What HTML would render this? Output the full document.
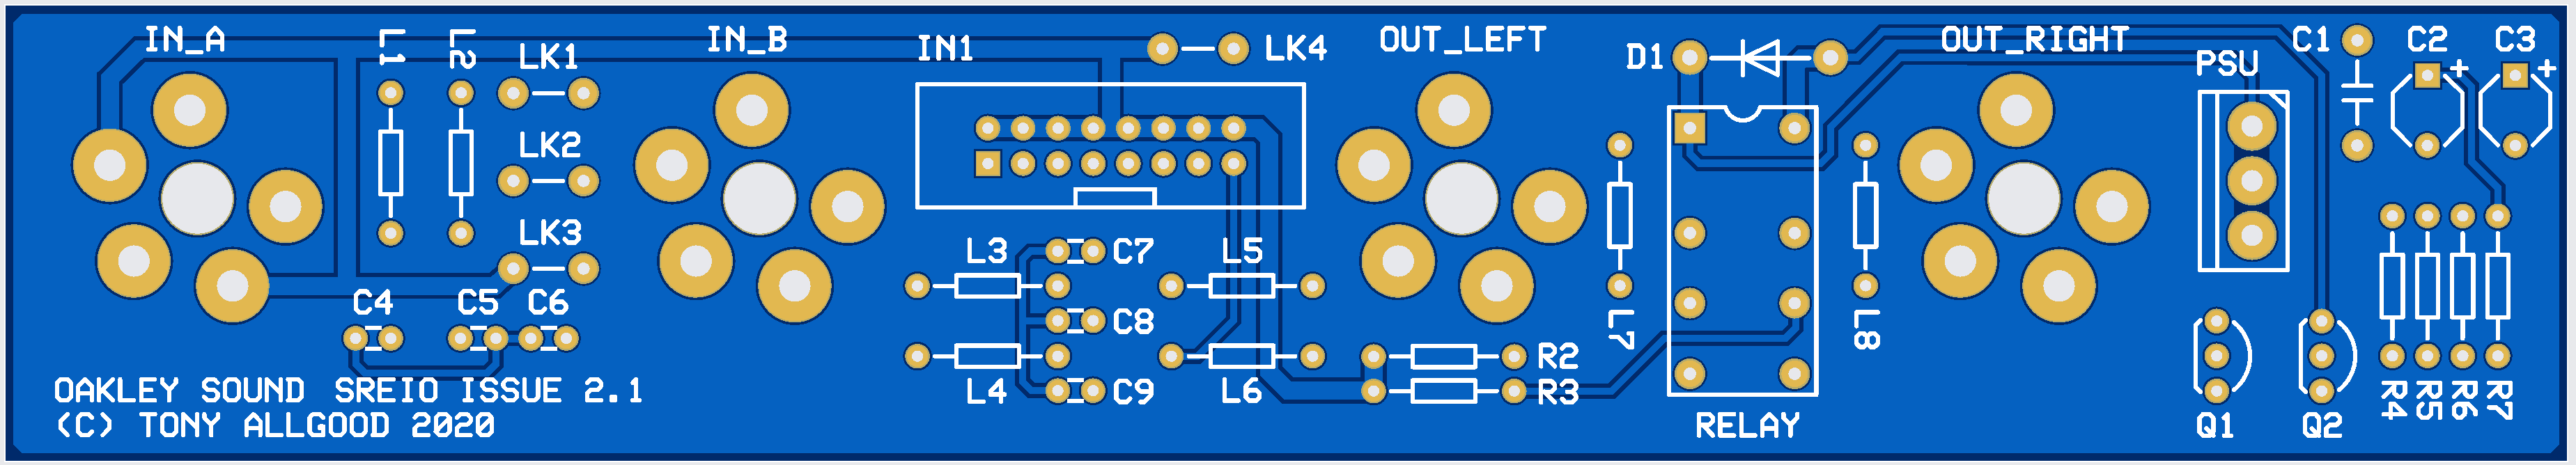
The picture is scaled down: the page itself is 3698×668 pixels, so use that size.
<!DOCTYPE html><html><head><meta charset="utf-8"><style>html,body{margin:0;padding:0;background:#e8e9ec;overflow:hidden}svg{display:block}</style></head><body>
<svg shape-rendering="crispEdges" width="3698" height="668" viewBox="0 0 3698 668">
<rect x="0" y="0" width="3698" height="668" fill="#e8e9ec"/>
<rect x="6" y="6" width="3681" height="657.5" fill="#ffffff"/>
<rect x="8" y="8" width="3677" height="653.5" fill="#002a6b"/>
<polygon points="31.5,19.5 3661.5,19.5 3674.0,32.0 3674.0,638.5 3661.5,651.0 31.5,651.0 19.0,638.5 19.0,32.0" fill="#0561c1"/>
<circle cx="272.50" cy="158.30" r="56.30" fill="#012a6b"/>
<circle cx="157.70" cy="237.30" r="56.30" fill="#012a6b"/>
<circle cx="410.00" cy="296.70" r="56.30" fill="#012a6b"/>
<circle cx="192.30" cy="375.00" r="56.30" fill="#012a6b"/>
<circle cx="334.00" cy="410.70" r="56.30" fill="#012a6b"/>
<circle cx="1079.50" cy="158.30" r="56.30" fill="#012a6b"/>
<circle cx="964.70" cy="237.30" r="56.30" fill="#012a6b"/>
<circle cx="1217.00" cy="296.70" r="56.30" fill="#012a6b"/>
<circle cx="999.30" cy="375.00" r="56.30" fill="#012a6b"/>
<circle cx="1141.00" cy="410.70" r="56.30" fill="#012a6b"/>
<circle cx="2087.50" cy="158.30" r="56.30" fill="#012a6b"/>
<circle cx="1972.70" cy="237.30" r="56.30" fill="#012a6b"/>
<circle cx="2225.00" cy="296.70" r="56.30" fill="#012a6b"/>
<circle cx="2007.30" cy="375.00" r="56.30" fill="#012a6b"/>
<circle cx="2149.00" cy="410.70" r="56.30" fill="#012a6b"/>
<circle cx="2894.50" cy="158.30" r="56.30" fill="#012a6b"/>
<circle cx="2779.70" cy="237.30" r="56.30" fill="#012a6b"/>
<circle cx="3032.00" cy="296.70" r="56.30" fill="#012a6b"/>
<circle cx="2814.30" cy="375.00" r="56.30" fill="#012a6b"/>
<circle cx="2956.00" cy="410.70" r="56.30" fill="#012a6b"/>
<circle cx="561.00" cy="133.30" r="20.80" fill="#012a6b"/>
<circle cx="561.00" cy="335.00" r="20.80" fill="#012a6b"/>
<circle cx="662.00" cy="133.30" r="20.80" fill="#012a6b"/>
<circle cx="662.00" cy="335.00" r="20.80" fill="#012a6b"/>
<circle cx="737.00" cy="133.90" r="24.80" fill="#012a6b"/>
<circle cx="837.80" cy="133.90" r="24.80" fill="#012a6b"/>
<circle cx="737.00" cy="259.90" r="24.80" fill="#012a6b"/>
<circle cx="837.80" cy="259.90" r="24.80" fill="#012a6b"/>
<circle cx="737.00" cy="385.90" r="24.80" fill="#012a6b"/>
<circle cx="837.80" cy="385.90" r="24.80" fill="#012a6b"/>
<circle cx="1669.00" cy="70.00" r="24.80" fill="#012a6b"/>
<circle cx="1771.00" cy="70.00" r="24.80" fill="#012a6b"/>
<circle cx="510.50" cy="486.00" r="20.80" fill="#012a6b"/>
<circle cx="561.00" cy="486.00" r="20.80" fill="#012a6b"/>
<circle cx="661.00" cy="486.00" r="20.80" fill="#012a6b"/>
<circle cx="712.00" cy="486.00" r="20.80" fill="#012a6b"/>
<circle cx="762.00" cy="486.00" r="20.80" fill="#012a6b"/>
<circle cx="813.00" cy="486.00" r="20.80" fill="#012a6b"/>
<circle cx="1418.30" cy="184.20" r="20.80" fill="#012a6b"/>
<rect x="1397.50" y="214.10" width="41.60" height="41.60" fill="#012a6b"/>
<circle cx="1468.70" cy="184.20" r="20.80" fill="#012a6b"/>
<circle cx="1468.70" cy="234.90" r="20.80" fill="#012a6b"/>
<circle cx="1519.10" cy="184.20" r="20.80" fill="#012a6b"/>
<circle cx="1519.10" cy="234.90" r="20.80" fill="#012a6b"/>
<circle cx="1569.50" cy="184.20" r="20.80" fill="#012a6b"/>
<circle cx="1569.50" cy="234.90" r="20.80" fill="#012a6b"/>
<circle cx="1619.90" cy="184.20" r="20.80" fill="#012a6b"/>
<circle cx="1619.90" cy="234.90" r="20.80" fill="#012a6b"/>
<circle cx="1670.30" cy="184.20" r="20.80" fill="#012a6b"/>
<circle cx="1670.30" cy="234.90" r="20.80" fill="#012a6b"/>
<circle cx="1720.70" cy="184.20" r="20.80" fill="#012a6b"/>
<circle cx="1720.70" cy="234.90" r="20.80" fill="#012a6b"/>
<circle cx="1771.10" cy="184.20" r="20.80" fill="#012a6b"/>
<circle cx="1771.10" cy="234.90" r="20.80" fill="#012a6b"/>
<circle cx="1317.10" cy="410.70" r="20.80" fill="#012a6b"/>
<circle cx="1518.60" cy="410.70" r="20.80" fill="#012a6b"/>
<circle cx="1681.60" cy="410.70" r="20.80" fill="#012a6b"/>
<circle cx="1884.40" cy="410.70" r="20.80" fill="#012a6b"/>
<circle cx="1317.10" cy="511.70" r="20.80" fill="#012a6b"/>
<circle cx="1518.60" cy="511.70" r="20.80" fill="#012a6b"/>
<circle cx="1681.60" cy="511.70" r="20.80" fill="#012a6b"/>
<circle cx="1884.40" cy="511.70" r="20.80" fill="#012a6b"/>
<circle cx="1518.60" cy="360.70" r="20.80" fill="#012a6b"/>
<circle cx="1569.30" cy="360.70" r="20.80" fill="#012a6b"/>
<circle cx="1518.60" cy="460.60" r="20.80" fill="#012a6b"/>
<circle cx="1569.30" cy="460.60" r="20.80" fill="#012a6b"/>
<circle cx="1518.60" cy="561.20" r="20.80" fill="#012a6b"/>
<circle cx="1569.30" cy="561.20" r="20.80" fill="#012a6b"/>
<circle cx="1972.00" cy="512.20" r="20.80" fill="#012a6b"/>
<circle cx="2173.80" cy="512.20" r="20.80" fill="#012a6b"/>
<circle cx="1972.00" cy="561.70" r="20.80" fill="#012a6b"/>
<circle cx="2173.80" cy="561.70" r="20.80" fill="#012a6b"/>
<circle cx="2325.60" cy="208.70" r="20.80" fill="#012a6b"/>
<circle cx="2325.60" cy="410.40" r="20.80" fill="#012a6b"/>
<circle cx="2678.30" cy="208.70" r="20.80" fill="#012a6b"/>
<circle cx="2678.30" cy="410.40" r="20.80" fill="#012a6b"/>
<rect x="2401.10" y="159.10" width="49.80" height="49.80" fill="#012a6b"/>
<circle cx="2576.40" cy="184.00" r="24.90" fill="#012a6b"/>
<circle cx="2426.00" cy="334.80" r="24.90" fill="#012a6b"/>
<circle cx="2576.40" cy="334.80" r="24.90" fill="#012a6b"/>
<circle cx="2426.00" cy="435.50" r="24.90" fill="#012a6b"/>
<circle cx="2576.40" cy="435.50" r="24.90" fill="#012a6b"/>
<circle cx="2426.00" cy="537.00" r="24.90" fill="#012a6b"/>
<circle cx="2576.40" cy="537.00" r="24.90" fill="#012a6b"/>
<circle cx="2426.00" cy="82.60" r="27.80" fill="#012a6b"/>
<circle cx="2627.90" cy="82.80" r="27.80" fill="#012a6b"/>
<circle cx="3233.00" cy="181.30" r="38.30" fill="#012a6b"/>
<circle cx="3233.00" cy="259.70" r="38.30" fill="#012a6b"/>
<circle cx="3233.00" cy="338.20" r="38.30" fill="#012a6b"/>
<circle cx="3182.30" cy="461.20" r="20.80" fill="#012a6b"/>
<circle cx="3182.30" cy="511.20" r="20.80" fill="#012a6b"/>
<circle cx="3182.30" cy="561.70" r="20.80" fill="#012a6b"/>
<circle cx="3333.00" cy="461.20" r="20.80" fill="#012a6b"/>
<circle cx="3333.00" cy="511.20" r="20.80" fill="#012a6b"/>
<circle cx="3333.00" cy="561.70" r="20.80" fill="#012a6b"/>
<circle cx="3434.40" cy="310.30" r="20.80" fill="#012a6b"/>
<circle cx="3434.40" cy="511.30" r="20.80" fill="#012a6b"/>
<circle cx="3484.90" cy="310.30" r="20.80" fill="#012a6b"/>
<circle cx="3484.90" cy="511.30" r="20.80" fill="#012a6b"/>
<circle cx="3535.40" cy="310.30" r="20.80" fill="#012a6b"/>
<circle cx="3535.40" cy="511.30" r="20.80" fill="#012a6b"/>
<circle cx="3585.90" cy="310.30" r="20.80" fill="#012a6b"/>
<circle cx="3585.90" cy="511.30" r="20.80" fill="#012a6b"/>
<circle cx="3384.20" cy="58.00" r="24.80" fill="#012a6b"/>
<circle cx="3384.00" cy="209.00" r="24.80" fill="#012a6b"/>
<rect x="3464.10" y="87.50" width="41.60" height="41.60" fill="#012a6b"/>
<circle cx="3484.60" cy="209.00" r="20.80" fill="#012a6b"/>
<rect x="3590.20" y="87.50" width="41.60" height="41.60" fill="#012a6b"/>
<circle cx="3611.00" cy="209.00" r="20.80" fill="#012a6b"/>
<rect x="3206.5" y="181" width="51.5" height="156" fill="#012a6b"/>
<circle cx="283.50" cy="285.30" r="56.10" fill="#012a6b"/>
<circle cx="1090.50" cy="285.30" r="56.10" fill="#012a6b"/>
<circle cx="2098.50" cy="285.30" r="56.10" fill="#012a6b"/>
<circle cx="2905.50" cy="285.30" r="56.10" fill="#012a6b"/>
<path d="M157.70 237.30 L157.70 112.80 L200.50 70.50 L1670.50 70.50" fill="none" stroke="#012a6b" stroke-width="37.40" stroke-linecap="butt" stroke-linejoin="miter"/>
<path d="M498.10 70.30 L498.10 410.50" fill="none" stroke="#012a6b" stroke-width="37.80" stroke-linecap="butt" stroke-linejoin="miter"/>
<path d="M334.00 410.50 L710.30 410.50 L737.40 385.80" fill="none" stroke="#012a6b" stroke-width="37.80" stroke-linecap="butt" stroke-linejoin="miter"/>
<path d="M510.60 486.00 L511.10 523.00 L524.40 536.30 L698.70 536.30 L712.00 523.00 L712.00 486.00" fill="none" stroke="#012a6b" stroke-width="22.00" stroke-linecap="butt" stroke-linejoin="miter"/>
<path d="M712.00 486.40 L762.00 486.40" fill="none" stroke="#012a6b" stroke-width="22.00" stroke-linecap="butt" stroke-linejoin="miter"/>
<path d="M1594.50 70.30 L1594.50 184.30" fill="none" stroke="#012a6b" stroke-width="37.80" stroke-linecap="butt" stroke-linejoin="miter"/>
<path d="M1418.30 184.30 L1807.40 184.30 L1822.00 198.90 L1822.00 534.40 L1848.60 561.00 L1972.00 561.00" fill="none" stroke="#012a6b" stroke-width="37.80" stroke-linecap="butt" stroke-linejoin="miter"/>
<path d="M1972.00 512.20 L1972.00 561.70" fill="none" stroke="#012a6b" stroke-width="37.80" stroke-linecap="butt" stroke-linejoin="miter"/>
<path d="M1771.10 234.90 L1771.10 460.00 L1719.30 511.70 L1681.60 511.70" fill="none" stroke="#012a6b" stroke-width="22.00" stroke-linecap="butt" stroke-linejoin="miter"/>
<path d="M1518.60 360.50 L1479.70 360.50 L1468.00 372.20 L1468.00 548.50 L1480.50 561.00 L1518.60 561.00" fill="none" stroke="#012a6b" stroke-width="22.00" stroke-linecap="butt" stroke-linejoin="miter"/>
<path d="M1468.00 461.00 L1518.60 461.00" fill="none" stroke="#012a6b" stroke-width="22.00" stroke-linecap="butt" stroke-linejoin="miter"/>
<path d="M2426.40 83.10 L2426.40 184.00" fill="none" stroke="#012a6b" stroke-width="37.80" stroke-linecap="butt" stroke-linejoin="miter"/>
<path d="M2627.30 84.00 L2587.30 84.00 L2578.00 93.30 L2578.00 184.00" fill="none" stroke="#012a6b" stroke-width="37.80" stroke-linecap="butt" stroke-linejoin="miter"/>
<path d="M2627.30 82.40 L2666.00 82.40 L2702.70 45.50 L3270.00 45.50 L3333.30 108.80 L3333.30 461.20" fill="none" stroke="#012a6b" stroke-width="22.00" stroke-linecap="butt" stroke-linejoin="miter"/>
<path d="M2426.20 184.00 L2426.20 221.00 L2439.70 234.50 L2614.00 234.50 L2628.10 220.40 L2628.10 182.50 L2728.10 82.40 L3205.50 82.90 L3233.00 110.40 L3233.00 181.30" fill="none" stroke="#012a6b" stroke-width="22.00" stroke-linecap="butt" stroke-linejoin="miter"/>
<path d="M3484.80 108.00 L3531.70 108.00 L3548.30 124.60 L3548.30 232.20 L3585.90 269.90 L3585.90 310.50" fill="none" stroke="#012a6b" stroke-width="22.00" stroke-linecap="butt" stroke-linejoin="miter"/>
<path d="M2173.80 562.00 L2313.50 562.00 L2389.30 486.20 L2563.00 486.20 L2577.60 471.60 L2577.60 435.50" fill="none" stroke="#012a6b" stroke-width="22.00" stroke-linecap="butt" stroke-linejoin="miter"/>
<path d="M157.70 237.30 L157.70 112.80 L200.50 70.50 L1670.50 70.50" fill="none" stroke="#0561c1" stroke-width="25.60" stroke-linecap="butt" stroke-linejoin="miter"/>
<path d="M498.10 70.30 L498.10 410.50" fill="none" stroke="#0561c1" stroke-width="26.00" stroke-linecap="butt" stroke-linejoin="miter"/>
<path d="M334.00 410.50 L710.30 410.50 L737.40 385.80" fill="none" stroke="#0561c1" stroke-width="26.00" stroke-linecap="butt" stroke-linejoin="miter"/>
<path d="M510.60 486.00 L511.10 523.00 L524.40 536.30 L698.70 536.30 L712.00 523.00 L712.00 486.00" fill="none" stroke="#0561c1" stroke-width="10.20" stroke-linecap="butt" stroke-linejoin="miter"/>
<path d="M712.00 486.40 L762.00 486.40" fill="none" stroke="#0561c1" stroke-width="10.20" stroke-linecap="butt" stroke-linejoin="miter"/>
<path d="M1594.50 70.30 L1594.50 184.30" fill="none" stroke="#0561c1" stroke-width="26.00" stroke-linecap="butt" stroke-linejoin="miter"/>
<path d="M1418.30 184.30 L1807.40 184.30 L1822.00 198.90 L1822.00 534.40 L1848.60 561.00 L1972.00 561.00" fill="none" stroke="#0561c1" stroke-width="26.00" stroke-linecap="butt" stroke-linejoin="miter"/>
<path d="M1972.00 512.20 L1972.00 561.70" fill="none" stroke="#0561c1" stroke-width="26.00" stroke-linecap="butt" stroke-linejoin="miter"/>
<path d="M1771.10 234.90 L1771.10 460.00 L1719.30 511.70 L1681.60 511.70" fill="none" stroke="#0561c1" stroke-width="10.20" stroke-linecap="butt" stroke-linejoin="miter"/>
<path d="M1518.60 360.50 L1479.70 360.50 L1468.00 372.20 L1468.00 548.50 L1480.50 561.00 L1518.60 561.00" fill="none" stroke="#0561c1" stroke-width="10.20" stroke-linecap="butt" stroke-linejoin="miter"/>
<path d="M1468.00 461.00 L1518.60 461.00" fill="none" stroke="#0561c1" stroke-width="10.20" stroke-linecap="butt" stroke-linejoin="miter"/>
<path d="M2426.40 83.10 L2426.40 184.00" fill="none" stroke="#0561c1" stroke-width="26.00" stroke-linecap="butt" stroke-linejoin="miter"/>
<path d="M2627.30 84.00 L2587.30 84.00 L2578.00 93.30 L2578.00 184.00" fill="none" stroke="#0561c1" stroke-width="26.00" stroke-linecap="butt" stroke-linejoin="miter"/>
<path d="M2627.30 82.40 L2666.00 82.40 L2702.70 45.50 L3270.00 45.50 L3333.30 108.80 L3333.30 461.20" fill="none" stroke="#0561c1" stroke-width="10.20" stroke-linecap="butt" stroke-linejoin="miter"/>
<path d="M2426.20 184.00 L2426.20 221.00 L2439.70 234.50 L2614.00 234.50 L2628.10 220.40 L2628.10 182.50 L2728.10 82.40 L3205.50 82.90 L3233.00 110.40 L3233.00 181.30" fill="none" stroke="#0561c1" stroke-width="10.20" stroke-linecap="butt" stroke-linejoin="miter"/>
<path d="M3484.80 108.00 L3531.70 108.00 L3548.30 124.60 L3548.30 232.20 L3585.90 269.90 L3585.90 310.50" fill="none" stroke="#0561c1" stroke-width="10.20" stroke-linecap="butt" stroke-linejoin="miter"/>
<path d="M2173.80 562.00 L2313.50 562.00 L2389.30 486.20 L2563.00 486.20 L2577.60 471.60 L2577.60 435.50" fill="none" stroke="#0561c1" stroke-width="10.20" stroke-linecap="butt" stroke-linejoin="miter"/>
<circle cx="272.50" cy="158.30" r="52.70" fill="#b5ab6c"/>
<circle cx="272.50" cy="158.30" r="50.70" fill="#e2b850"/>
<circle cx="272.50" cy="158.30" r="22.60" fill="#e7e8ec"/>
<circle cx="157.70" cy="237.30" r="52.70" fill="#b5ab6c"/>
<circle cx="157.70" cy="237.30" r="50.70" fill="#e2b850"/>
<circle cx="157.70" cy="237.30" r="22.60" fill="#e7e8ec"/>
<circle cx="410.00" cy="296.70" r="52.70" fill="#b5ab6c"/>
<circle cx="410.00" cy="296.70" r="50.70" fill="#e2b850"/>
<circle cx="410.00" cy="296.70" r="22.60" fill="#e7e8ec"/>
<circle cx="192.30" cy="375.00" r="52.70" fill="#b5ab6c"/>
<circle cx="192.30" cy="375.00" r="50.70" fill="#e2b850"/>
<circle cx="192.30" cy="375.00" r="22.60" fill="#e7e8ec"/>
<circle cx="334.00" cy="410.70" r="52.70" fill="#b5ab6c"/>
<circle cx="334.00" cy="410.70" r="50.70" fill="#e2b850"/>
<circle cx="334.00" cy="410.70" r="22.60" fill="#e7e8ec"/>
<circle cx="1079.50" cy="158.30" r="52.70" fill="#b5ab6c"/>
<circle cx="1079.50" cy="158.30" r="50.70" fill="#e2b850"/>
<circle cx="1079.50" cy="158.30" r="22.60" fill="#e7e8ec"/>
<circle cx="964.70" cy="237.30" r="52.70" fill="#b5ab6c"/>
<circle cx="964.70" cy="237.30" r="50.70" fill="#e2b850"/>
<circle cx="964.70" cy="237.30" r="22.60" fill="#e7e8ec"/>
<circle cx="1217.00" cy="296.70" r="52.70" fill="#b5ab6c"/>
<circle cx="1217.00" cy="296.70" r="50.70" fill="#e2b850"/>
<circle cx="1217.00" cy="296.70" r="22.60" fill="#e7e8ec"/>
<circle cx="999.30" cy="375.00" r="52.70" fill="#b5ab6c"/>
<circle cx="999.30" cy="375.00" r="50.70" fill="#e2b850"/>
<circle cx="999.30" cy="375.00" r="22.60" fill="#e7e8ec"/>
<circle cx="1141.00" cy="410.70" r="52.70" fill="#b5ab6c"/>
<circle cx="1141.00" cy="410.70" r="50.70" fill="#e2b850"/>
<circle cx="1141.00" cy="410.70" r="22.60" fill="#e7e8ec"/>
<circle cx="2087.50" cy="158.30" r="52.70" fill="#b5ab6c"/>
<circle cx="2087.50" cy="158.30" r="50.70" fill="#e2b850"/>
<circle cx="2087.50" cy="158.30" r="22.60" fill="#e7e8ec"/>
<circle cx="1972.70" cy="237.30" r="52.70" fill="#b5ab6c"/>
<circle cx="1972.70" cy="237.30" r="50.70" fill="#e2b850"/>
<circle cx="1972.70" cy="237.30" r="22.60" fill="#e7e8ec"/>
<circle cx="2225.00" cy="296.70" r="52.70" fill="#b5ab6c"/>
<circle cx="2225.00" cy="296.70" r="50.70" fill="#e2b850"/>
<circle cx="2225.00" cy="296.70" r="22.60" fill="#e7e8ec"/>
<circle cx="2007.30" cy="375.00" r="52.70" fill="#b5ab6c"/>
<circle cx="2007.30" cy="375.00" r="50.70" fill="#e2b850"/>
<circle cx="2007.30" cy="375.00" r="22.60" fill="#e7e8ec"/>
<circle cx="2149.00" cy="410.70" r="52.70" fill="#b5ab6c"/>
<circle cx="2149.00" cy="410.70" r="50.70" fill="#e2b850"/>
<circle cx="2149.00" cy="410.70" r="22.60" fill="#e7e8ec"/>
<circle cx="2894.50" cy="158.30" r="52.70" fill="#b5ab6c"/>
<circle cx="2894.50" cy="158.30" r="50.70" fill="#e2b850"/>
<circle cx="2894.50" cy="158.30" r="22.60" fill="#e7e8ec"/>
<circle cx="2779.70" cy="237.30" r="52.70" fill="#b5ab6c"/>
<circle cx="2779.70" cy="237.30" r="50.70" fill="#e2b850"/>
<circle cx="2779.70" cy="237.30" r="22.60" fill="#e7e8ec"/>
<circle cx="3032.00" cy="296.70" r="52.70" fill="#b5ab6c"/>
<circle cx="3032.00" cy="296.70" r="50.70" fill="#e2b850"/>
<circle cx="3032.00" cy="296.70" r="22.60" fill="#e7e8ec"/>
<circle cx="2814.30" cy="375.00" r="52.70" fill="#b5ab6c"/>
<circle cx="2814.30" cy="375.00" r="50.70" fill="#e2b850"/>
<circle cx="2814.30" cy="375.00" r="22.60" fill="#e7e8ec"/>
<circle cx="2956.00" cy="410.70" r="52.70" fill="#b5ab6c"/>
<circle cx="2956.00" cy="410.70" r="50.70" fill="#e2b850"/>
<circle cx="2956.00" cy="410.70" r="22.60" fill="#e7e8ec"/>
<circle cx="561.00" cy="133.30" r="17.80" fill="#b5ab6c"/>
<circle cx="561.00" cy="133.30" r="15.30" fill="#e2b850"/>
<circle cx="561.00" cy="133.30" r="8.20" fill="#e7e8ec"/>
<circle cx="561.00" cy="335.00" r="17.80" fill="#b5ab6c"/>
<circle cx="561.00" cy="335.00" r="15.30" fill="#e2b850"/>
<circle cx="561.00" cy="335.00" r="8.20" fill="#e7e8ec"/>
<circle cx="662.00" cy="133.30" r="17.80" fill="#b5ab6c"/>
<circle cx="662.00" cy="133.30" r="15.30" fill="#e2b850"/>
<circle cx="662.00" cy="133.30" r="8.20" fill="#e7e8ec"/>
<circle cx="662.00" cy="335.00" r="17.80" fill="#b5ab6c"/>
<circle cx="662.00" cy="335.00" r="15.30" fill="#e2b850"/>
<circle cx="662.00" cy="335.00" r="8.20" fill="#e7e8ec"/>
<circle cx="737.00" cy="133.90" r="22.10" fill="#b5ab6c"/>
<circle cx="737.00" cy="133.90" r="19.10" fill="#e2b850"/>
<circle cx="737.00" cy="133.90" r="8.90" fill="#e7e8ec"/>
<circle cx="837.80" cy="133.90" r="22.10" fill="#b5ab6c"/>
<circle cx="837.80" cy="133.90" r="19.10" fill="#e2b850"/>
<circle cx="837.80" cy="133.90" r="8.90" fill="#e7e8ec"/>
<circle cx="737.00" cy="259.90" r="22.10" fill="#b5ab6c"/>
<circle cx="737.00" cy="259.90" r="19.10" fill="#e2b850"/>
<circle cx="737.00" cy="259.90" r="8.90" fill="#e7e8ec"/>
<circle cx="837.80" cy="259.90" r="22.10" fill="#b5ab6c"/>
<circle cx="837.80" cy="259.90" r="19.10" fill="#e2b850"/>
<circle cx="837.80" cy="259.90" r="8.90" fill="#e7e8ec"/>
<circle cx="737.00" cy="385.90" r="22.10" fill="#b5ab6c"/>
<circle cx="737.00" cy="385.90" r="19.10" fill="#e2b850"/>
<circle cx="737.00" cy="385.90" r="8.90" fill="#e7e8ec"/>
<circle cx="837.80" cy="385.90" r="22.10" fill="#b5ab6c"/>
<circle cx="837.80" cy="385.90" r="19.10" fill="#e2b850"/>
<circle cx="837.80" cy="385.90" r="8.90" fill="#e7e8ec"/>
<circle cx="1669.00" cy="70.00" r="22.10" fill="#b5ab6c"/>
<circle cx="1669.00" cy="70.00" r="19.10" fill="#e2b850"/>
<circle cx="1669.00" cy="70.00" r="8.90" fill="#e7e8ec"/>
<circle cx="1771.00" cy="70.00" r="22.10" fill="#b5ab6c"/>
<circle cx="1771.00" cy="70.00" r="19.10" fill="#e2b850"/>
<circle cx="1771.00" cy="70.00" r="8.90" fill="#e7e8ec"/>
<circle cx="510.50" cy="486.00" r="17.80" fill="#b5ab6c"/>
<circle cx="510.50" cy="486.00" r="15.30" fill="#e2b850"/>
<circle cx="510.50" cy="486.00" r="8.20" fill="#e7e8ec"/>
<circle cx="561.00" cy="486.00" r="17.80" fill="#b5ab6c"/>
<circle cx="561.00" cy="486.00" r="15.30" fill="#e2b850"/>
<circle cx="561.00" cy="486.00" r="8.20" fill="#e7e8ec"/>
<circle cx="661.00" cy="486.00" r="17.80" fill="#b5ab6c"/>
<circle cx="661.00" cy="486.00" r="15.30" fill="#e2b850"/>
<circle cx="661.00" cy="486.00" r="8.20" fill="#e7e8ec"/>
<circle cx="712.00" cy="486.00" r="17.80" fill="#b5ab6c"/>
<circle cx="712.00" cy="486.00" r="15.30" fill="#e2b850"/>
<circle cx="712.00" cy="486.00" r="8.20" fill="#e7e8ec"/>
<circle cx="762.00" cy="486.00" r="17.80" fill="#b5ab6c"/>
<circle cx="762.00" cy="486.00" r="15.30" fill="#e2b850"/>
<circle cx="762.00" cy="486.00" r="8.20" fill="#e7e8ec"/>
<circle cx="813.00" cy="486.00" r="17.80" fill="#b5ab6c"/>
<circle cx="813.00" cy="486.00" r="15.30" fill="#e2b850"/>
<circle cx="813.00" cy="486.00" r="8.20" fill="#e7e8ec"/>
<circle cx="1418.30" cy="184.20" r="17.80" fill="#b5ab6c"/>
<circle cx="1418.30" cy="184.20" r="15.30" fill="#e2b850"/>
<circle cx="1418.30" cy="184.20" r="8.20" fill="#e7e8ec"/>
<rect x="1400.50" y="217.10" width="35.60" height="35.60" fill="#b5ab6c"/>
<rect x="1402.30" y="218.90" width="32.00" height="32.00" fill="#e2b850"/>
<circle cx="1418.30" cy="234.90" r="8.20" fill="#e7e8ec"/>
<circle cx="1468.70" cy="184.20" r="17.80" fill="#b5ab6c"/>
<circle cx="1468.70" cy="184.20" r="15.30" fill="#e2b850"/>
<circle cx="1468.70" cy="184.20" r="8.20" fill="#e7e8ec"/>
<circle cx="1468.70" cy="234.90" r="17.80" fill="#b5ab6c"/>
<circle cx="1468.70" cy="234.90" r="15.30" fill="#e2b850"/>
<circle cx="1468.70" cy="234.90" r="8.20" fill="#e7e8ec"/>
<circle cx="1519.10" cy="184.20" r="17.80" fill="#b5ab6c"/>
<circle cx="1519.10" cy="184.20" r="15.30" fill="#e2b850"/>
<circle cx="1519.10" cy="184.20" r="8.20" fill="#e7e8ec"/>
<circle cx="1519.10" cy="234.90" r="17.80" fill="#b5ab6c"/>
<circle cx="1519.10" cy="234.90" r="15.30" fill="#e2b850"/>
<circle cx="1519.10" cy="234.90" r="8.20" fill="#e7e8ec"/>
<circle cx="1569.50" cy="184.20" r="17.80" fill="#b5ab6c"/>
<circle cx="1569.50" cy="184.20" r="15.30" fill="#e2b850"/>
<circle cx="1569.50" cy="184.20" r="8.20" fill="#e7e8ec"/>
<circle cx="1569.50" cy="234.90" r="17.80" fill="#b5ab6c"/>
<circle cx="1569.50" cy="234.90" r="15.30" fill="#e2b850"/>
<circle cx="1569.50" cy="234.90" r="8.20" fill="#e7e8ec"/>
<circle cx="1619.90" cy="184.20" r="17.80" fill="#b5ab6c"/>
<circle cx="1619.90" cy="184.20" r="15.30" fill="#e2b850"/>
<circle cx="1619.90" cy="184.20" r="8.20" fill="#e7e8ec"/>
<circle cx="1619.90" cy="234.90" r="17.80" fill="#b5ab6c"/>
<circle cx="1619.90" cy="234.90" r="15.30" fill="#e2b850"/>
<circle cx="1619.90" cy="234.90" r="8.20" fill="#e7e8ec"/>
<circle cx="1670.30" cy="184.20" r="17.80" fill="#b5ab6c"/>
<circle cx="1670.30" cy="184.20" r="15.30" fill="#e2b850"/>
<circle cx="1670.30" cy="184.20" r="8.20" fill="#e7e8ec"/>
<circle cx="1670.30" cy="234.90" r="17.80" fill="#b5ab6c"/>
<circle cx="1670.30" cy="234.90" r="15.30" fill="#e2b850"/>
<circle cx="1670.30" cy="234.90" r="8.20" fill="#e7e8ec"/>
<circle cx="1720.70" cy="184.20" r="17.80" fill="#b5ab6c"/>
<circle cx="1720.70" cy="184.20" r="15.30" fill="#e2b850"/>
<circle cx="1720.70" cy="184.20" r="8.20" fill="#e7e8ec"/>
<circle cx="1720.70" cy="234.90" r="17.80" fill="#b5ab6c"/>
<circle cx="1720.70" cy="234.90" r="15.30" fill="#e2b850"/>
<circle cx="1720.70" cy="234.90" r="8.20" fill="#e7e8ec"/>
<circle cx="1771.10" cy="184.20" r="17.80" fill="#b5ab6c"/>
<circle cx="1771.10" cy="184.20" r="15.30" fill="#e2b850"/>
<circle cx="1771.10" cy="184.20" r="8.20" fill="#e7e8ec"/>
<circle cx="1771.10" cy="234.90" r="17.80" fill="#b5ab6c"/>
<circle cx="1771.10" cy="234.90" r="15.30" fill="#e2b850"/>
<circle cx="1771.10" cy="234.90" r="8.20" fill="#e7e8ec"/>
<circle cx="1317.10" cy="410.70" r="17.80" fill="#b5ab6c"/>
<circle cx="1317.10" cy="410.70" r="15.30" fill="#e2b850"/>
<circle cx="1317.10" cy="410.70" r="8.20" fill="#e7e8ec"/>
<circle cx="1518.60" cy="410.70" r="17.80" fill="#b5ab6c"/>
<circle cx="1518.60" cy="410.70" r="15.30" fill="#e2b850"/>
<circle cx="1518.60" cy="410.70" r="8.20" fill="#e7e8ec"/>
<circle cx="1681.60" cy="410.70" r="17.80" fill="#b5ab6c"/>
<circle cx="1681.60" cy="410.70" r="15.30" fill="#e2b850"/>
<circle cx="1681.60" cy="410.70" r="8.20" fill="#e7e8ec"/>
<circle cx="1884.40" cy="410.70" r="17.80" fill="#b5ab6c"/>
<circle cx="1884.40" cy="410.70" r="15.30" fill="#e2b850"/>
<circle cx="1884.40" cy="410.70" r="8.20" fill="#e7e8ec"/>
<circle cx="1317.10" cy="511.70" r="17.80" fill="#b5ab6c"/>
<circle cx="1317.10" cy="511.70" r="15.30" fill="#e2b850"/>
<circle cx="1317.10" cy="511.70" r="8.20" fill="#e7e8ec"/>
<circle cx="1518.60" cy="511.70" r="17.80" fill="#b5ab6c"/>
<circle cx="1518.60" cy="511.70" r="15.30" fill="#e2b850"/>
<circle cx="1518.60" cy="511.70" r="8.20" fill="#e7e8ec"/>
<circle cx="1681.60" cy="511.70" r="17.80" fill="#b5ab6c"/>
<circle cx="1681.60" cy="511.70" r="15.30" fill="#e2b850"/>
<circle cx="1681.60" cy="511.70" r="8.20" fill="#e7e8ec"/>
<circle cx="1884.40" cy="511.70" r="17.80" fill="#b5ab6c"/>
<circle cx="1884.40" cy="511.70" r="15.30" fill="#e2b850"/>
<circle cx="1884.40" cy="511.70" r="8.20" fill="#e7e8ec"/>
<circle cx="1518.60" cy="360.70" r="17.80" fill="#b5ab6c"/>
<circle cx="1518.60" cy="360.70" r="15.30" fill="#e2b850"/>
<circle cx="1518.60" cy="360.70" r="8.20" fill="#e7e8ec"/>
<circle cx="1569.30" cy="360.70" r="17.80" fill="#b5ab6c"/>
<circle cx="1569.30" cy="360.70" r="15.30" fill="#e2b850"/>
<circle cx="1569.30" cy="360.70" r="8.20" fill="#e7e8ec"/>
<circle cx="1518.60" cy="460.60" r="17.80" fill="#b5ab6c"/>
<circle cx="1518.60" cy="460.60" r="15.30" fill="#e2b850"/>
<circle cx="1518.60" cy="460.60" r="8.20" fill="#e7e8ec"/>
<circle cx="1569.30" cy="460.60" r="17.80" fill="#b5ab6c"/>
<circle cx="1569.30" cy="460.60" r="15.30" fill="#e2b850"/>
<circle cx="1569.30" cy="460.60" r="8.20" fill="#e7e8ec"/>
<circle cx="1518.60" cy="561.20" r="17.80" fill="#b5ab6c"/>
<circle cx="1518.60" cy="561.20" r="15.30" fill="#e2b850"/>
<circle cx="1518.60" cy="561.20" r="8.20" fill="#e7e8ec"/>
<circle cx="1569.30" cy="561.20" r="17.80" fill="#b5ab6c"/>
<circle cx="1569.30" cy="561.20" r="15.30" fill="#e2b850"/>
<circle cx="1569.30" cy="561.20" r="8.20" fill="#e7e8ec"/>
<circle cx="1972.00" cy="512.20" r="17.80" fill="#b5ab6c"/>
<circle cx="1972.00" cy="512.20" r="15.30" fill="#e2b850"/>
<circle cx="1972.00" cy="512.20" r="8.20" fill="#e7e8ec"/>
<circle cx="2173.80" cy="512.20" r="17.80" fill="#b5ab6c"/>
<circle cx="2173.80" cy="512.20" r="15.30" fill="#e2b850"/>
<circle cx="2173.80" cy="512.20" r="8.20" fill="#e7e8ec"/>
<circle cx="1972.00" cy="561.70" r="17.80" fill="#b5ab6c"/>
<circle cx="1972.00" cy="561.70" r="15.30" fill="#e2b850"/>
<circle cx="1972.00" cy="561.70" r="8.20" fill="#e7e8ec"/>
<circle cx="2173.80" cy="561.70" r="17.80" fill="#b5ab6c"/>
<circle cx="2173.80" cy="561.70" r="15.30" fill="#e2b850"/>
<circle cx="2173.80" cy="561.70" r="8.20" fill="#e7e8ec"/>
<circle cx="2325.60" cy="208.70" r="17.80" fill="#b5ab6c"/>
<circle cx="2325.60" cy="208.70" r="15.30" fill="#e2b850"/>
<circle cx="2325.60" cy="208.70" r="8.20" fill="#e7e8ec"/>
<circle cx="2325.60" cy="410.40" r="17.80" fill="#b5ab6c"/>
<circle cx="2325.60" cy="410.40" r="15.30" fill="#e2b850"/>
<circle cx="2325.60" cy="410.40" r="8.20" fill="#e7e8ec"/>
<circle cx="2678.30" cy="208.70" r="17.80" fill="#b5ab6c"/>
<circle cx="2678.30" cy="208.70" r="15.30" fill="#e2b850"/>
<circle cx="2678.30" cy="208.70" r="8.20" fill="#e7e8ec"/>
<circle cx="2678.30" cy="410.40" r="17.80" fill="#b5ab6c"/>
<circle cx="2678.30" cy="410.40" r="15.30" fill="#e2b850"/>
<circle cx="2678.30" cy="410.40" r="8.20" fill="#e7e8ec"/>
<rect x="2403.90" y="161.90" width="44.20" height="44.20" fill="#b5ab6c"/>
<rect x="2405.70" y="163.70" width="40.60" height="40.60" fill="#e2b850"/>
<circle cx="2426.00" cy="184.00" r="9.00" fill="#e7e8ec"/>
<circle cx="2576.40" cy="184.00" r="22.10" fill="#b5ab6c"/>
<circle cx="2576.40" cy="184.00" r="19.10" fill="#e2b850"/>
<circle cx="2576.40" cy="184.00" r="9.00" fill="#e7e8ec"/>
<circle cx="2426.00" cy="334.80" r="22.10" fill="#b5ab6c"/>
<circle cx="2426.00" cy="334.80" r="19.10" fill="#e2b850"/>
<circle cx="2426.00" cy="334.80" r="9.00" fill="#e7e8ec"/>
<circle cx="2576.40" cy="334.80" r="22.10" fill="#b5ab6c"/>
<circle cx="2576.40" cy="334.80" r="19.10" fill="#e2b850"/>
<circle cx="2576.40" cy="334.80" r="9.00" fill="#e7e8ec"/>
<circle cx="2426.00" cy="435.50" r="22.10" fill="#b5ab6c"/>
<circle cx="2426.00" cy="435.50" r="19.10" fill="#e2b850"/>
<circle cx="2426.00" cy="435.50" r="9.00" fill="#e7e8ec"/>
<circle cx="2576.40" cy="435.50" r="22.10" fill="#b5ab6c"/>
<circle cx="2576.40" cy="435.50" r="19.10" fill="#e2b850"/>
<circle cx="2576.40" cy="435.50" r="9.00" fill="#e7e8ec"/>
<circle cx="2426.00" cy="537.00" r="22.10" fill="#b5ab6c"/>
<circle cx="2426.00" cy="537.00" r="19.10" fill="#e2b850"/>
<circle cx="2426.00" cy="537.00" r="9.00" fill="#e7e8ec"/>
<circle cx="2576.40" cy="537.00" r="22.10" fill="#b5ab6c"/>
<circle cx="2576.40" cy="537.00" r="19.10" fill="#e2b850"/>
<circle cx="2576.40" cy="537.00" r="9.00" fill="#e7e8ec"/>
<circle cx="2426.00" cy="82.60" r="25.00" fill="#b5ab6c"/>
<circle cx="2426.00" cy="82.60" r="22.00" fill="#e2b850"/>
<circle cx="2426.00" cy="82.60" r="11.20" fill="#e7e8ec"/>
<circle cx="2627.90" cy="82.80" r="25.00" fill="#b5ab6c"/>
<circle cx="2627.90" cy="82.80" r="22.00" fill="#e2b850"/>
<circle cx="2627.90" cy="82.80" r="11.20" fill="#e7e8ec"/>
<circle cx="3233.00" cy="181.30" r="35.40" fill="#b5ab6c"/>
<circle cx="3233.00" cy="181.30" r="32.40" fill="#e2b850"/>
<circle cx="3233.00" cy="181.30" r="15.30" fill="#e7e8ec"/>
<circle cx="3233.00" cy="259.70" r="35.40" fill="#b5ab6c"/>
<circle cx="3233.00" cy="259.70" r="32.40" fill="#e2b850"/>
<circle cx="3233.00" cy="259.70" r="15.30" fill="#e7e8ec"/>
<circle cx="3233.00" cy="338.20" r="35.40" fill="#b5ab6c"/>
<circle cx="3233.00" cy="338.20" r="32.40" fill="#e2b850"/>
<circle cx="3233.00" cy="338.20" r="15.30" fill="#e7e8ec"/>
<circle cx="3182.30" cy="461.20" r="17.80" fill="#b5ab6c"/>
<circle cx="3182.30" cy="461.20" r="15.30" fill="#e2b850"/>
<circle cx="3182.30" cy="461.20" r="8.20" fill="#e7e8ec"/>
<circle cx="3182.30" cy="511.20" r="17.80" fill="#b5ab6c"/>
<circle cx="3182.30" cy="511.20" r="15.30" fill="#e2b850"/>
<circle cx="3182.30" cy="511.20" r="8.20" fill="#e7e8ec"/>
<circle cx="3182.30" cy="561.70" r="17.80" fill="#b5ab6c"/>
<circle cx="3182.30" cy="561.70" r="15.30" fill="#e2b850"/>
<circle cx="3182.30" cy="561.70" r="8.20" fill="#e7e8ec"/>
<circle cx="3333.00" cy="461.20" r="17.80" fill="#b5ab6c"/>
<circle cx="3333.00" cy="461.20" r="15.30" fill="#e2b850"/>
<circle cx="3333.00" cy="461.20" r="8.20" fill="#e7e8ec"/>
<circle cx="3333.00" cy="511.20" r="17.80" fill="#b5ab6c"/>
<circle cx="3333.00" cy="511.20" r="15.30" fill="#e2b850"/>
<circle cx="3333.00" cy="511.20" r="8.20" fill="#e7e8ec"/>
<circle cx="3333.00" cy="561.70" r="17.80" fill="#b5ab6c"/>
<circle cx="3333.00" cy="561.70" r="15.30" fill="#e2b850"/>
<circle cx="3333.00" cy="561.70" r="8.20" fill="#e7e8ec"/>
<circle cx="3434.40" cy="310.30" r="17.80" fill="#b5ab6c"/>
<circle cx="3434.40" cy="310.30" r="15.30" fill="#e2b850"/>
<circle cx="3434.40" cy="310.30" r="8.20" fill="#e7e8ec"/>
<circle cx="3434.40" cy="511.30" r="17.80" fill="#b5ab6c"/>
<circle cx="3434.40" cy="511.30" r="15.30" fill="#e2b850"/>
<circle cx="3434.40" cy="511.30" r="8.20" fill="#e7e8ec"/>
<circle cx="3484.90" cy="310.30" r="17.80" fill="#b5ab6c"/>
<circle cx="3484.90" cy="310.30" r="15.30" fill="#e2b850"/>
<circle cx="3484.90" cy="310.30" r="8.20" fill="#e7e8ec"/>
<circle cx="3484.90" cy="511.30" r="17.80" fill="#b5ab6c"/>
<circle cx="3484.90" cy="511.30" r="15.30" fill="#e2b850"/>
<circle cx="3484.90" cy="511.30" r="8.20" fill="#e7e8ec"/>
<circle cx="3535.40" cy="310.30" r="17.80" fill="#b5ab6c"/>
<circle cx="3535.40" cy="310.30" r="15.30" fill="#e2b850"/>
<circle cx="3535.40" cy="310.30" r="8.20" fill="#e7e8ec"/>
<circle cx="3535.40" cy="511.30" r="17.80" fill="#b5ab6c"/>
<circle cx="3535.40" cy="511.30" r="15.30" fill="#e2b850"/>
<circle cx="3535.40" cy="511.30" r="8.20" fill="#e7e8ec"/>
<circle cx="3585.90" cy="310.30" r="17.80" fill="#b5ab6c"/>
<circle cx="3585.90" cy="310.30" r="15.30" fill="#e2b850"/>
<circle cx="3585.90" cy="310.30" r="8.20" fill="#e7e8ec"/>
<circle cx="3585.90" cy="511.30" r="17.80" fill="#b5ab6c"/>
<circle cx="3585.90" cy="511.30" r="15.30" fill="#e2b850"/>
<circle cx="3585.90" cy="511.30" r="8.20" fill="#e7e8ec"/>
<circle cx="3384.20" cy="58.00" r="22.10" fill="#b5ab6c"/>
<circle cx="3384.20" cy="58.00" r="19.10" fill="#e2b850"/>
<circle cx="3384.20" cy="58.00" r="8.90" fill="#e7e8ec"/>
<circle cx="3384.00" cy="209.00" r="22.10" fill="#b5ab6c"/>
<circle cx="3384.00" cy="209.00" r="19.10" fill="#e2b850"/>
<circle cx="3384.00" cy="209.00" r="8.90" fill="#e7e8ec"/>
<rect x="3467.10" y="90.50" width="35.60" height="35.60" fill="#b5ab6c"/>
<rect x="3468.90" y="92.30" width="32.00" height="32.00" fill="#e2b850"/>
<circle cx="3484.90" cy="108.30" r="8.20" fill="#e7e8ec"/>
<circle cx="3484.60" cy="209.00" r="17.80" fill="#b5ab6c"/>
<circle cx="3484.60" cy="209.00" r="15.30" fill="#e2b850"/>
<circle cx="3484.60" cy="209.00" r="8.20" fill="#e7e8ec"/>
<rect x="3593.20" y="90.50" width="35.60" height="35.60" fill="#b5ab6c"/>
<rect x="3595.00" y="92.30" width="32.00" height="32.00" fill="#e2b850"/>
<circle cx="3611.00" cy="108.30" r="8.20" fill="#e7e8ec"/>
<circle cx="3611.00" cy="209.00" r="17.80" fill="#b5ab6c"/>
<circle cx="3611.00" cy="209.00" r="15.30" fill="#e2b850"/>
<circle cx="3611.00" cy="209.00" r="8.20" fill="#e7e8ec"/>
<circle cx="283.50" cy="285.30" r="52.60" fill="#b5ab6c"/>
<circle cx="283.50" cy="285.30" r="50.40" fill="#e7e8ec"/>
<circle cx="1090.50" cy="285.30" r="52.60" fill="#b5ab6c"/>
<circle cx="1090.50" cy="285.30" r="50.40" fill="#e7e8ec"/>
<circle cx="2098.50" cy="285.30" r="52.60" fill="#b5ab6c"/>
<circle cx="2098.50" cy="285.30" r="50.40" fill="#e7e8ec"/>
<circle cx="2905.50" cy="285.30" r="52.60" fill="#b5ab6c"/>
<circle cx="2905.50" cy="285.30" r="50.40" fill="#e7e8ec"/>
<rect x="545.80" y="189.15" width="30.40" height="90.00" fill="none" stroke="#ffffff" stroke-width="6.20" stroke-linejoin="round"/>
<path d="M561.00 158.30 L561.00 189.15" fill="none" stroke="#ffffff" stroke-width="6.20" stroke-linecap="round" stroke-linejoin="round"/>
<path d="M561.00 279.15 L561.00 310.00" fill="none" stroke="#ffffff" stroke-width="6.20" stroke-linecap="round" stroke-linejoin="round"/>
<rect x="646.80" y="189.15" width="30.40" height="90.00" fill="none" stroke="#ffffff" stroke-width="6.20" stroke-linejoin="round"/>
<path d="M662.00 158.30 L662.00 189.15" fill="none" stroke="#ffffff" stroke-width="6.20" stroke-linecap="round" stroke-linejoin="round"/>
<path d="M662.00 279.15 L662.00 310.00" fill="none" stroke="#ffffff" stroke-width="6.20" stroke-linecap="round" stroke-linejoin="round"/>
<rect x="1372.85" y="395.50" width="90.00" height="30.40" fill="none" stroke="#ffffff" stroke-width="6.20" stroke-linejoin="round"/>
<path d="M1342.10 410.70 L1372.85 410.70" fill="none" stroke="#ffffff" stroke-width="6.20" stroke-linecap="round" stroke-linejoin="round"/>
<path d="M1462.85 410.70 L1493.60 410.70" fill="none" stroke="#ffffff" stroke-width="6.20" stroke-linecap="round" stroke-linejoin="round"/>
<rect x="1372.85" y="496.50" width="90.00" height="30.40" fill="none" stroke="#ffffff" stroke-width="6.20" stroke-linejoin="round"/>
<path d="M1342.10 511.70 L1372.85 511.70" fill="none" stroke="#ffffff" stroke-width="6.20" stroke-linecap="round" stroke-linejoin="round"/>
<path d="M1462.85 511.70 L1493.60 511.70" fill="none" stroke="#ffffff" stroke-width="6.20" stroke-linecap="round" stroke-linejoin="round"/>
<rect x="1738.00" y="395.50" width="90.00" height="30.40" fill="none" stroke="#ffffff" stroke-width="6.20" stroke-linejoin="round"/>
<path d="M1706.60 410.70 L1738.00 410.70" fill="none" stroke="#ffffff" stroke-width="6.20" stroke-linecap="round" stroke-linejoin="round"/>
<path d="M1828.00 410.70 L1859.40 410.70" fill="none" stroke="#ffffff" stroke-width="6.20" stroke-linecap="round" stroke-linejoin="round"/>
<rect x="1738.00" y="496.50" width="90.00" height="30.40" fill="none" stroke="#ffffff" stroke-width="6.20" stroke-linejoin="round"/>
<path d="M1706.60 511.70 L1738.00 511.70" fill="none" stroke="#ffffff" stroke-width="6.20" stroke-linecap="round" stroke-linejoin="round"/>
<path d="M1828.00 511.70 L1859.40 511.70" fill="none" stroke="#ffffff" stroke-width="6.20" stroke-linecap="round" stroke-linejoin="round"/>
<rect x="2027.90" y="497.00" width="90.00" height="30.40" fill="none" stroke="#ffffff" stroke-width="6.20" stroke-linejoin="round"/>
<path d="M1997.00 512.20 L2027.90 512.20" fill="none" stroke="#ffffff" stroke-width="6.20" stroke-linecap="round" stroke-linejoin="round"/>
<path d="M2117.90 512.20 L2148.80 512.20" fill="none" stroke="#ffffff" stroke-width="6.20" stroke-linecap="round" stroke-linejoin="round"/>
<rect x="2027.90" y="546.50" width="90.00" height="30.40" fill="none" stroke="#ffffff" stroke-width="6.20" stroke-linejoin="round"/>
<path d="M1997.00 561.70 L2027.90 561.70" fill="none" stroke="#ffffff" stroke-width="6.20" stroke-linecap="round" stroke-linejoin="round"/>
<path d="M2117.90 561.70 L2148.80 561.70" fill="none" stroke="#ffffff" stroke-width="6.20" stroke-linecap="round" stroke-linejoin="round"/>
<rect x="2310.40" y="264.55" width="30.40" height="90.00" fill="none" stroke="#ffffff" stroke-width="6.20" stroke-linejoin="round"/>
<path d="M2325.60 233.70 L2325.60 264.55" fill="none" stroke="#ffffff" stroke-width="6.20" stroke-linecap="round" stroke-linejoin="round"/>
<path d="M2325.60 354.55 L2325.60 385.40" fill="none" stroke="#ffffff" stroke-width="6.20" stroke-linecap="round" stroke-linejoin="round"/>
<rect x="2663.10" y="264.55" width="30.40" height="90.00" fill="none" stroke="#ffffff" stroke-width="6.20" stroke-linejoin="round"/>
<path d="M2678.30 233.70 L2678.30 264.55" fill="none" stroke="#ffffff" stroke-width="6.20" stroke-linecap="round" stroke-linejoin="round"/>
<path d="M2678.30 354.55 L2678.30 385.40" fill="none" stroke="#ffffff" stroke-width="6.20" stroke-linecap="round" stroke-linejoin="round"/>
<rect x="3419.20" y="365.80" width="30.40" height="90.00" fill="none" stroke="#ffffff" stroke-width="6.20" stroke-linejoin="round"/>
<path d="M3434.40 335.30 L3434.40 365.80" fill="none" stroke="#ffffff" stroke-width="6.20" stroke-linecap="round" stroke-linejoin="round"/>
<path d="M3434.40 455.80 L3434.40 486.30" fill="none" stroke="#ffffff" stroke-width="6.20" stroke-linecap="round" stroke-linejoin="round"/>
<rect x="3469.70" y="365.80" width="30.40" height="90.00" fill="none" stroke="#ffffff" stroke-width="6.20" stroke-linejoin="round"/>
<path d="M3484.90 335.30 L3484.90 365.80" fill="none" stroke="#ffffff" stroke-width="6.20" stroke-linecap="round" stroke-linejoin="round"/>
<path d="M3484.90 455.80 L3484.90 486.30" fill="none" stroke="#ffffff" stroke-width="6.20" stroke-linecap="round" stroke-linejoin="round"/>
<rect x="3520.20" y="365.80" width="30.40" height="90.00" fill="none" stroke="#ffffff" stroke-width="6.20" stroke-linejoin="round"/>
<path d="M3535.40 335.30 L3535.40 365.80" fill="none" stroke="#ffffff" stroke-width="6.20" stroke-linecap="round" stroke-linejoin="round"/>
<path d="M3535.40 455.80 L3535.40 486.30" fill="none" stroke="#ffffff" stroke-width="6.20" stroke-linecap="round" stroke-linejoin="round"/>
<rect x="3570.70" y="365.80" width="30.40" height="90.00" fill="none" stroke="#ffffff" stroke-width="6.20" stroke-linejoin="round"/>
<path d="M3585.90 335.30 L3585.90 365.80" fill="none" stroke="#ffffff" stroke-width="6.20" stroke-linecap="round" stroke-linejoin="round"/>
<path d="M3585.90 455.80 L3585.90 486.30" fill="none" stroke="#ffffff" stroke-width="6.20" stroke-linecap="round" stroke-linejoin="round"/>
<path d="M767.00 133.90 L808.00 133.90" fill="none" stroke="#ffffff" stroke-width="6.20" stroke-linecap="round" stroke-linejoin="round"/>
<path d="M767.00 259.90 L808.00 259.90" fill="none" stroke="#ffffff" stroke-width="6.20" stroke-linecap="round" stroke-linejoin="round"/>
<path d="M767.00 385.90 L808.00 385.90" fill="none" stroke="#ffffff" stroke-width="6.20" stroke-linecap="round" stroke-linejoin="round"/>
<path d="M1699.00 70.00 L1741.00 70.00" fill="none" stroke="#ffffff" stroke-width="6.20" stroke-linecap="round" stroke-linejoin="round"/>
<path d="M523.75 471.00 L547.75 471.00" fill="none" stroke="#ffffff" stroke-width="6.20" stroke-linecap="butt" stroke-linejoin="round"/>
<path d="M523.75 501.00 L547.75 501.00" fill="none" stroke="#ffffff" stroke-width="6.20" stroke-linecap="butt" stroke-linejoin="round"/>
<path d="M674.50 471.00 L698.50 471.00" fill="none" stroke="#ffffff" stroke-width="6.20" stroke-linecap="butt" stroke-linejoin="round"/>
<path d="M674.50 501.00 L698.50 501.00" fill="none" stroke="#ffffff" stroke-width="6.20" stroke-linecap="butt" stroke-linejoin="round"/>
<path d="M775.50 471.00 L799.50 471.00" fill="none" stroke="#ffffff" stroke-width="6.20" stroke-linecap="butt" stroke-linejoin="round"/>
<path d="M775.50 501.00 L799.50 501.00" fill="none" stroke="#ffffff" stroke-width="6.20" stroke-linecap="butt" stroke-linejoin="round"/>
<path d="M1531.95 345.70 L1555.95 345.70" fill="none" stroke="#ffffff" stroke-width="6.20" stroke-linecap="butt" stroke-linejoin="round"/>
<path d="M1531.95 375.70 L1555.95 375.70" fill="none" stroke="#ffffff" stroke-width="6.20" stroke-linecap="butt" stroke-linejoin="round"/>
<path d="M1531.95 445.60 L1555.95 445.60" fill="none" stroke="#ffffff" stroke-width="6.20" stroke-linecap="butt" stroke-linejoin="round"/>
<path d="M1531.95 475.60 L1555.95 475.60" fill="none" stroke="#ffffff" stroke-width="6.20" stroke-linecap="butt" stroke-linejoin="round"/>
<path d="M1531.95 546.20 L1555.95 546.20" fill="none" stroke="#ffffff" stroke-width="6.20" stroke-linecap="butt" stroke-linejoin="round"/>
<path d="M1531.95 576.20 L1555.95 576.20" fill="none" stroke="#ffffff" stroke-width="6.20" stroke-linecap="butt" stroke-linejoin="round"/>
<rect x="1317.00" y="121.00" width="555.00" height="177.00" fill="none" stroke="#ffffff" stroke-width="6.20" stroke-linejoin="round"/>
<path d="M1544.00 298.00 L1544.00 272.00 L1657.50 272.00 L1657.50 298.00" fill="none" stroke="#ffffff" stroke-width="6.20" stroke-linecap="butt" stroke-linejoin="miter"/>
<path d="M2396 153.9 L2477 153.9 A25.9 25.9 0 0 0 2527 153.9 L2607.4 153.9 L2607.4 567.2 L2396 567.2 Z" fill="none" stroke="#ffffff" stroke-width="6.20" stroke-linejoin="round"/>
<path d="M2456.50 83.50 L2597.50 83.50" fill="none" stroke="#ffffff" stroke-width="6.20" stroke-linecap="round" stroke-linejoin="round"/>
<path d="M2502.00 59.50 L2502.00 107.70" fill="none" stroke="#ffffff" stroke-width="6.20" stroke-linecap="round" stroke-linejoin="round"/>
<path d="M2552.00 59.50 L2503.00 83.50 L2552.00 107.70 L2552.00 59.50" fill="none" stroke="#ffffff" stroke-width="6.20" stroke-linecap="round" stroke-linejoin="round"/>
<rect x="3158.00" y="132.30" width="125.80" height="255.70" fill="none" stroke="#ffffff" stroke-width="6.20" stroke-linejoin="round"/>
<path d="M3182.60 132.30 L3182.60 388.00" fill="none" stroke="#ffffff" stroke-width="6.20" stroke-linecap="butt" stroke-linejoin="round"/>
<path d="M3258.00 132.30 L3283.80 156.00" fill="none" stroke="#ffffff" stroke-width="6.20" stroke-linecap="butt" stroke-linejoin="round"/>
<path d="M3159.00 460.00 L3152.00 467.00 L3152.00 556.20 L3159.00 563.20" fill="none" stroke="#ffffff" stroke-width="6.20" stroke-linecap="round" stroke-linejoin="round"/>
<path d="M3207.00 463.00 A62.6 62.6 0 0 1 3207.00 560.20" fill="none" stroke="#ffffff" stroke-width="6.20" stroke-linecap="round"/>
<path d="M3310.00 460.00 L3303.00 467.00 L3303.00 556.20 L3310.00 563.20" fill="none" stroke="#ffffff" stroke-width="6.20" stroke-linecap="round" stroke-linejoin="round"/>
<path d="M3358.00 463.00 A62.6 62.6 0 0 1 3358.00 560.20" fill="none" stroke="#ffffff" stroke-width="6.20" stroke-linecap="round"/>
<path d="M3384.20 88.50 L3384.20 123.20" fill="none" stroke="#ffffff" stroke-width="6.20" stroke-linecap="round" stroke-linejoin="round"/>
<path d="M3364.40 123.20 L3404.40 123.20" fill="none" stroke="#ffffff" stroke-width="6.20" stroke-linecap="round" stroke-linejoin="round"/>
<path d="M3364.40 144.10 L3404.40 144.10" fill="none" stroke="#ffffff" stroke-width="6.20" stroke-linecap="round" stroke-linejoin="round"/>
<path d="M3384.20 144.10 L3384.20 177.60" fill="none" stroke="#ffffff" stroke-width="6.20" stroke-linecap="round" stroke-linejoin="round"/>
<path d="M3460.00 108.80 L3435.00 133.50 L3435.00 183.20 L3460.00 208.50" fill="none" stroke="#ffffff" stroke-width="6.20" stroke-linecap="round" stroke-linejoin="round"/>
<path d="M3510.00 108.80 L3535.00 133.50 L3535.00 183.20 L3510.00 208.50" fill="none" stroke="#ffffff" stroke-width="6.20" stroke-linecap="round" stroke-linejoin="round"/>
<path d="M3586.00 108.80 L3561.00 133.50 L3561.00 183.20 L3586.00 208.50" fill="none" stroke="#ffffff" stroke-width="6.20" stroke-linecap="round" stroke-linejoin="round"/>
<path d="M3636.00 108.80 L3661.00 133.50 L3661.00 183.20 L3636.00 208.50" fill="none" stroke="#ffffff" stroke-width="6.20" stroke-linecap="round" stroke-linejoin="round"/>
<path transform="translate(208.20 40.25)" d="M4.95 0.00 L14.85 0.00 M9.90 0.00 L9.90 30.60 M4.95 30.60 L14.85 30.60 M30.30 30.60 L30.30 0.00 L50.10 20.40 M50.10 0.00 L50.10 30.60 M60.60 34.68 L80.40 34.68 M90.90 30.60 L90.90 10.20 L100.80 0.00 L110.70 10.20 L110.70 30.60 M90.90 20.40 L110.70 20.40" fill="none" stroke="#ffffff" stroke-width="6.50" stroke-linecap="round" stroke-linejoin="round"/>
<path transform="translate(1015.20 40.25)" d="M4.95 0.00 L14.85 0.00 M9.90 0.00 L9.90 30.60 M4.95 30.60 L14.85 30.60 M30.30 30.60 L30.30 0.00 L50.10 20.40 M50.10 0.00 L50.10 30.60 M60.60 34.68 L80.40 34.68 M90.90 0.00 L105.75 0.00 L110.70 5.10 L110.70 10.20 L105.75 15.30 L110.70 20.40 L110.70 25.50 L105.75 30.60 L90.90 30.60 M93.38 0.00 L93.38 30.60 M93.38 15.30 L105.75 15.30" fill="none" stroke="#ffffff" stroke-width="6.50" stroke-linecap="round" stroke-linejoin="round"/>
<path transform="translate(579.00 45.25) rotate(90)" d="M0.00 0.00 L0.00 30.60 L19.80 30.60 M35.25 5.10 L40.20 0.00 L40.20 30.60 M35.25 30.60 L45.15 30.60" fill="none" stroke="#ffffff" stroke-width="6.50" stroke-linecap="round" stroke-linejoin="round"/>
<path transform="translate(679.75 45.25) rotate(90)" d="M0.00 0.00 L0.00 30.60 L19.80 30.60 M30.30 5.10 L35.25 0.00 L45.15 0.00 L50.10 5.10 L50.10 10.20 L45.15 15.30 L35.25 15.30 L30.30 20.40 L30.30 30.60 L50.10 30.60" fill="none" stroke="#ffffff" stroke-width="6.50" stroke-linecap="round" stroke-linejoin="round"/>
<path transform="translate(750.00 65.25)" d="M0.00 0.00 L0.00 30.60 L19.80 30.60 M30.30 0.00 L30.30 30.60 M50.10 0.00 L30.30 20.40 M35.25 15.30 L50.10 30.60 M65.55 5.10 L70.50 0.00 L70.50 30.60 M65.55 30.60 L75.45 30.60" fill="none" stroke="#ffffff" stroke-width="6.50" stroke-linecap="round" stroke-linejoin="round"/>
<path transform="translate(749.80 192.30)" d="M0.00 0.00 L0.00 30.60 L19.80 30.60 M30.30 0.00 L30.30 30.60 M50.10 0.00 L30.30 20.40 M35.25 15.30 L50.10 30.60 M60.60 5.10 L65.55 0.00 L75.45 0.00 L80.40 5.10 L80.40 10.20 L75.45 15.30 L65.55 15.30 L60.60 20.40 L60.60 30.60 L80.40 30.60" fill="none" stroke="#ffffff" stroke-width="6.50" stroke-linecap="round" stroke-linejoin="round"/>
<path transform="translate(750.20 318.00)" d="M0.00 0.00 L0.00 30.60 L19.80 30.60 M30.30 0.00 L30.30 30.60 M50.10 0.00 L30.30 20.40 M35.25 15.30 L50.10 30.60 M60.60 5.10 L65.55 0.00 L75.45 0.00 L80.40 5.10 L80.40 10.20 L75.45 15.30 L80.40 20.40 L80.40 25.50 L75.45 30.60 L65.55 30.60 L60.60 25.50 M68.03 15.30 L75.45 15.30" fill="none" stroke="#ffffff" stroke-width="6.50" stroke-linecap="round" stroke-linejoin="round"/>
<path transform="translate(1821.30 53.00)" d="M0.00 0.00 L0.00 30.60 L19.80 30.60 M30.30 0.00 L30.30 30.60 M50.10 0.00 L30.30 20.40 M35.25 15.30 L50.10 30.60 M75.45 30.60 L75.45 0.00 L60.60 15.30 L60.60 20.40 L80.40 20.40" fill="none" stroke="#ffffff" stroke-width="6.50" stroke-linecap="round" stroke-linejoin="round"/>
<path transform="translate(511.20 418.60)" d="M19.80 5.10 L14.85 0.00 L4.95 0.00 L0.00 5.10 L0.00 25.50 L4.95 30.60 L14.85 30.60 L19.80 25.50 M45.15 30.60 L45.15 0.00 L30.30 15.30 L30.30 20.40 L50.10 20.40" fill="none" stroke="#ffffff" stroke-width="6.50" stroke-linecap="round" stroke-linejoin="round"/>
<path transform="translate(661.30 418.00)" d="M19.80 5.10 L14.85 0.00 L4.95 0.00 L0.00 5.10 L0.00 25.50 L4.95 30.60 L14.85 30.60 L19.80 25.50 M50.10 0.00 L30.30 0.00 L30.30 12.75 L45.15 12.75 L50.10 17.85 L50.10 25.50 L45.15 30.60 L35.25 30.60 L30.30 25.50" fill="none" stroke="#ffffff" stroke-width="6.50" stroke-linecap="round" stroke-linejoin="round"/>
<path transform="translate(762.30 418.00)" d="M19.80 5.10 L14.85 0.00 L4.95 0.00 L0.00 5.10 L0.00 25.50 L4.95 30.60 L14.85 30.60 L19.80 25.50 M45.15 0.00 L40.20 0.00 L30.30 10.20 L30.30 25.50 L35.25 30.60 L45.15 30.60 L50.10 25.50 L50.10 20.40 L45.15 15.30 L35.25 15.30 L30.30 20.40" fill="none" stroke="#ffffff" stroke-width="6.50" stroke-linecap="round" stroke-linejoin="round"/>
<path transform="translate(1317.30 53.30)" d="M4.95 0.00 L14.85 0.00 M9.90 0.00 L9.90 30.60 M4.95 30.60 L14.85 30.60 M30.30 30.60 L30.30 0.00 L50.10 20.40 M50.10 0.00 L50.10 30.60 M65.55 5.10 L70.50 0.00 L70.50 30.60 M65.55 30.60 L75.45 30.60" fill="none" stroke="#ffffff" stroke-width="6.50" stroke-linecap="round" stroke-linejoin="round"/>
<path transform="translate(1985.00 40.25)" d="M4.95 0.00 L14.85 0.00 L19.80 5.10 L19.80 25.50 L14.85 30.60 L4.95 30.60 L0.00 25.50 L0.00 5.10 L4.95 0.00 M30.30 0.00 L30.30 25.50 L35.25 30.60 L45.15 30.60 L50.10 25.50 L50.10 0.00 M60.60 0.00 L80.40 0.00 M70.50 0.00 L70.50 30.60 M90.90 34.68 L110.70 34.68 M121.20 0.00 L121.20 30.60 L141.00 30.60 M171.30 0.00 L151.50 0.00 L151.50 30.60 L171.30 30.60 M151.50 15.30 L166.35 15.30 M201.60 0.00 L181.80 0.00 L181.80 30.60 M181.80 15.30 L196.65 15.30 M212.10 0.00 L231.90 0.00 M222.00 0.00 L222.00 30.60" fill="none" stroke="#ffffff" stroke-width="6.50" stroke-linecap="round" stroke-linejoin="round"/>
<path transform="translate(2338.70 65.30)" d="M0.00 0.00 L14.85 0.00 L19.80 5.10 L19.80 25.50 L14.85 30.60 L0.00 30.60 M2.48 0.00 L2.48 30.60 M35.25 5.10 L40.20 0.00 L40.20 30.60 M35.25 30.60 L45.15 30.60" fill="none" stroke="#ffffff" stroke-width="6.50" stroke-linecap="round" stroke-linejoin="round"/>
<path transform="translate(2791.20 40.25)" d="M4.95 0.00 L14.85 0.00 L19.80 5.10 L19.80 25.50 L14.85 30.60 L4.95 30.60 L0.00 25.50 L0.00 5.10 L4.95 0.00 M30.30 0.00 L30.30 25.50 L35.25 30.60 L45.15 30.60 L50.10 25.50 L50.10 0.00 M60.60 0.00 L80.40 0.00 M70.50 0.00 L70.50 30.60 M90.90 34.68 L110.70 34.68 M121.20 30.60 L121.20 0.00 L136.05 0.00 L141.00 5.10 L141.00 10.20 L136.05 15.30 L121.20 15.30 M126.15 15.30 L141.00 30.60 M156.45 0.00 L166.35 0.00 M161.40 0.00 L161.40 30.60 M156.45 30.60 L166.35 30.60 M201.60 5.10 L196.65 0.00 L186.75 0.00 L181.80 5.10 L181.80 25.50 L186.75 30.60 L201.60 30.60 L201.60 17.85 L196.65 17.85 L196.65 20.40 M212.10 0.00 L212.10 30.60 M231.90 0.00 L231.90 30.60 M212.10 15.30 L231.90 15.30 M242.40 0.00 L262.20 0.00 M252.30 0.00 L252.30 30.60" fill="none" stroke="#ffffff" stroke-width="6.50" stroke-linecap="round" stroke-linejoin="round"/>
<path transform="translate(3157.50 75.20)" d="M0.00 30.60 L0.00 0.00 L14.85 0.00 L19.80 5.10 L19.80 10.20 L14.85 15.30 L0.00 15.30 M50.10 5.10 L45.15 0.00 L35.25 0.00 L30.30 5.10 L30.30 10.20 L35.25 15.30 L45.15 15.30 L50.10 20.40 L50.10 25.50 L45.15 30.60 L35.25 30.60 L30.30 25.50 M60.60 0.00 L60.60 25.50 L65.55 30.60 L75.45 30.60 L80.40 25.50 L80.40 0.00" fill="none" stroke="#ffffff" stroke-width="6.50" stroke-linecap="round" stroke-linejoin="round"/>
<path transform="translate(3295.20 40.25)" d="M19.80 5.10 L14.85 0.00 L4.95 0.00 L0.00 5.10 L0.00 25.50 L4.95 30.60 L14.85 30.60 L19.80 25.50 M35.25 5.10 L40.20 0.00 L40.20 30.60 M35.25 30.60 L45.15 30.60" fill="none" stroke="#ffffff" stroke-width="6.50" stroke-linecap="round" stroke-linejoin="round"/>
<path transform="translate(3459.80 40.25)" d="M19.80 5.10 L14.85 0.00 L4.95 0.00 L0.00 5.10 L0.00 25.50 L4.95 30.60 L14.85 30.60 L19.80 25.50 M30.30 5.10 L35.25 0.00 L45.15 0.00 L50.10 5.10 L50.10 10.20 L45.15 15.30 L35.25 15.30 L30.30 20.40 L30.30 30.60 L50.10 30.60" fill="none" stroke="#ffffff" stroke-width="6.50" stroke-linecap="round" stroke-linejoin="round"/>
<path transform="translate(3585.90 40.25)" d="M19.80 5.10 L14.85 0.00 L4.95 0.00 L0.00 5.10 L0.00 25.50 L4.95 30.60 L14.85 30.60 L19.80 25.50 M30.30 5.10 L35.25 0.00 L45.15 0.00 L50.10 5.10 L50.10 10.20 L45.15 15.30 L50.10 20.40 L50.10 25.50 L45.15 30.60 L35.25 30.60 L30.30 25.50 M37.73 15.30 L45.15 15.30" fill="none" stroke="#ffffff" stroke-width="6.50" stroke-linecap="round" stroke-linejoin="round"/>
<path transform="translate(3520.50 83.20)" d="M0.00 15.00 L20.00 15.00 M10.00 5.00 L10.00 25.00" fill="none" stroke="#ffffff" stroke-width="6.50" stroke-linecap="round" stroke-linejoin="round"/>
<path transform="translate(3646.50 83.20)" d="M0.00 15.00 L20.00 15.00 M10.00 5.00 L10.00 25.00" fill="none" stroke="#ffffff" stroke-width="6.50" stroke-linecap="round" stroke-linejoin="round"/>
<path transform="translate(1392.00 344.50)" d="M0.00 0.00 L0.00 30.60 L19.80 30.60 M30.30 5.10 L35.25 0.00 L45.15 0.00 L50.10 5.10 L50.10 10.20 L45.15 15.30 L50.10 20.40 L50.10 25.50 L45.15 30.60 L35.25 30.60 L30.30 25.50 M37.73 15.30 L45.15 15.30" fill="none" stroke="#ffffff" stroke-width="6.50" stroke-linecap="round" stroke-linejoin="round"/>
<path transform="translate(1602.30 345.00)" d="M19.80 5.10 L14.85 0.00 L4.95 0.00 L0.00 5.10 L0.00 25.50 L4.95 30.60 L14.85 30.60 L19.80 25.50 M30.30 5.10 L30.30 0.00 L50.10 0.00 L50.10 5.10 L35.25 20.40 L35.25 30.60" fill="none" stroke="#ffffff" stroke-width="6.50" stroke-linecap="round" stroke-linejoin="round"/>
<path transform="translate(1602.30 446.00)" d="M19.80 5.10 L14.85 0.00 L4.95 0.00 L0.00 5.10 L0.00 25.50 L4.95 30.60 L14.85 30.60 L19.80 25.50 M35.25 0.00 L45.15 0.00 L50.10 5.10 L50.10 10.20 L45.15 15.30 L35.25 15.30 L30.30 10.20 L30.30 5.10 L35.25 0.00 M35.25 15.30 L30.30 20.40 L30.30 25.50 L35.25 30.60 L45.15 30.60 L50.10 25.50 L50.10 20.40 L45.15 15.30" fill="none" stroke="#ffffff" stroke-width="6.50" stroke-linecap="round" stroke-linejoin="round"/>
<path transform="translate(1602.30 547.00)" d="M19.80 5.10 L14.85 0.00 L4.95 0.00 L0.00 5.10 L0.00 25.50 L4.95 30.60 L14.85 30.60 L19.80 25.50 M50.10 15.30 L35.25 15.30 L30.30 10.20 L30.30 5.10 L35.25 0.00 L45.15 0.00 L50.10 5.10 L50.10 20.40 L40.20 30.60 L35.25 30.60" fill="none" stroke="#ffffff" stroke-width="6.50" stroke-linecap="round" stroke-linejoin="round"/>
<path transform="translate(1759.00 344.50)" d="M0.00 0.00 L0.00 30.60 L19.80 30.60 M50.10 0.00 L30.30 0.00 L30.30 12.75 L45.15 12.75 L50.10 17.85 L50.10 25.50 L45.15 30.60 L35.25 30.60 L30.30 25.50" fill="none" stroke="#ffffff" stroke-width="6.50" stroke-linecap="round" stroke-linejoin="round"/>
<path transform="translate(1392.00 546.30)" d="M0.00 0.00 L0.00 30.60 L19.80 30.60 M45.15 30.60 L45.15 0.00 L30.30 15.30 L30.30 20.40 L50.10 20.40" fill="none" stroke="#ffffff" stroke-width="6.50" stroke-linecap="round" stroke-linejoin="round"/>
<path transform="translate(1758.00 545.00)" d="M0.00 0.00 L0.00 30.60 L19.80 30.60 M45.15 0.00 L40.20 0.00 L30.30 10.20 L30.30 25.50 L35.25 30.60 L45.15 30.60 L50.10 25.50 L50.10 20.40 L45.15 15.30 L35.25 15.30 L30.30 20.40" fill="none" stroke="#ffffff" stroke-width="6.50" stroke-linecap="round" stroke-linejoin="round"/>
<path transform="translate(2212.20 495.70)" d="M0.00 30.60 L0.00 0.00 L14.85 0.00 L19.80 5.10 L19.80 10.20 L14.85 15.30 L0.00 15.30 M4.95 15.30 L19.80 30.60 M30.30 5.10 L35.25 0.00 L45.15 0.00 L50.10 5.10 L50.10 10.20 L45.15 15.30 L35.25 15.30 L30.30 20.40 L30.30 30.60 L50.10 30.60" fill="none" stroke="#ffffff" stroke-width="6.50" stroke-linecap="round" stroke-linejoin="round"/>
<path transform="translate(2212.20 547.50)" d="M0.00 30.60 L0.00 0.00 L14.85 0.00 L19.80 5.10 L19.80 10.20 L14.85 15.30 L0.00 15.30 M4.95 15.30 L19.80 30.60 M30.30 5.10 L35.25 0.00 L45.15 0.00 L50.10 5.10 L50.10 10.20 L45.15 15.30 L50.10 20.40 L50.10 25.50 L45.15 30.60 L35.25 30.60 L30.30 25.50 M37.73 15.30 L45.15 15.30" fill="none" stroke="#ffffff" stroke-width="6.50" stroke-linecap="round" stroke-linejoin="round"/>
<path transform="translate(2343.20 448.60) rotate(90)" d="M0.00 0.00 L0.00 30.60 L19.80 30.60 M30.30 5.10 L30.30 0.00 L50.10 0.00 L50.10 5.10 L35.25 20.40 L35.25 30.60" fill="none" stroke="#ffffff" stroke-width="6.50" stroke-linecap="round" stroke-linejoin="round"/>
<path transform="translate(2695.80 448.60) rotate(90)" d="M0.00 0.00 L0.00 30.60 L19.80 30.60 M35.25 0.00 L45.15 0.00 L50.10 5.10 L50.10 10.20 L45.15 15.30 L35.25 15.30 L30.30 10.20 L30.30 5.10 L35.25 0.00 M35.25 15.30 L30.30 20.40 L30.30 25.50 L35.25 30.60 L45.15 30.60 L50.10 25.50 L50.10 20.40 L45.15 15.30" fill="none" stroke="#ffffff" stroke-width="6.50" stroke-linecap="round" stroke-linejoin="round"/>
<path transform="translate(2439.20 595.00)" d="M0.00 30.60 L0.00 0.00 L14.85 0.00 L19.80 5.10 L19.80 10.20 L14.85 15.30 L0.00 15.30 M4.95 15.30 L19.80 30.60 M50.10 0.00 L30.30 0.00 L30.30 30.60 L50.10 30.60 M30.30 15.30 L45.15 15.30 M60.60 0.00 L60.60 30.60 L80.40 30.60 M90.90 30.60 L90.90 10.20 L100.80 0.00 L110.70 10.20 L110.70 30.60 M90.90 20.40 L110.70 20.40 M121.20 0.00 L121.20 5.10 L131.10 15.30 L131.10 30.60 M141.00 0.00 L141.00 5.10 L131.10 15.30" fill="none" stroke="#ffffff" stroke-width="6.50" stroke-linecap="round" stroke-linejoin="round"/>
<path transform="translate(3157.50 595.20)" d="M4.95 0.00 L14.85 0.00 L19.80 5.10 L19.80 25.50 L14.85 30.60 L4.95 30.60 L0.00 25.50 L0.00 5.10 L4.95 0.00 M9.90 20.40 L19.80 30.60 M35.25 5.10 L40.20 0.00 L40.20 30.60 M35.25 30.60 L45.15 30.60" fill="none" stroke="#ffffff" stroke-width="6.50" stroke-linecap="round" stroke-linejoin="round"/>
<path transform="translate(3309.00 595.20)" d="M4.95 0.00 L14.85 0.00 L19.80 5.10 L19.80 25.50 L14.85 30.60 L4.95 30.60 L0.00 25.50 L0.00 5.10 L4.95 0.00 M9.90 20.40 L19.80 30.60 M30.30 5.10 L35.25 0.00 L45.15 0.00 L50.10 5.10 L50.10 10.20 L45.15 15.30 L35.25 15.30 L30.30 20.40 L30.30 30.60 L50.10 30.60" fill="none" stroke="#ffffff" stroke-width="6.50" stroke-linecap="round" stroke-linejoin="round"/>
<path transform="translate(3452.50 550.00) rotate(90)" d="M0.00 30.60 L0.00 0.00 L14.85 0.00 L19.80 5.10 L19.80 10.20 L14.85 15.30 L0.00 15.30 M4.95 15.30 L19.80 30.60 M45.15 30.60 L45.15 0.00 L30.30 15.30 L30.30 20.40 L50.10 20.40" fill="none" stroke="#ffffff" stroke-width="6.50" stroke-linecap="round" stroke-linejoin="round"/>
<path transform="translate(3502.80 550.00) rotate(90)" d="M0.00 30.60 L0.00 0.00 L14.85 0.00 L19.80 5.10 L19.80 10.20 L14.85 15.30 L0.00 15.30 M4.95 15.30 L19.80 30.60 M50.10 0.00 L30.30 0.00 L30.30 12.75 L45.15 12.75 L50.10 17.85 L50.10 25.50 L45.15 30.60 L35.25 30.60 L30.30 25.50" fill="none" stroke="#ffffff" stroke-width="6.50" stroke-linecap="round" stroke-linejoin="round"/>
<path transform="translate(3553.60 550.00) rotate(90)" d="M0.00 30.60 L0.00 0.00 L14.85 0.00 L19.80 5.10 L19.80 10.20 L14.85 15.30 L0.00 15.30 M4.95 15.30 L19.80 30.60 M45.15 0.00 L40.20 0.00 L30.30 10.20 L30.30 25.50 L35.25 30.60 L45.15 30.60 L50.10 25.50 L50.10 20.40 L45.15 15.30 L35.25 15.30 L30.30 20.40" fill="none" stroke="#ffffff" stroke-width="6.50" stroke-linecap="round" stroke-linejoin="round"/>
<path transform="translate(3604.00 550.00) rotate(90)" d="M0.00 30.60 L0.00 0.00 L14.85 0.00 L19.80 5.10 L19.80 10.20 L14.85 15.30 L0.00 15.30 M4.95 15.30 L19.80 30.60 M30.30 5.10 L30.30 0.00 L50.10 0.00 L50.10 5.10 L35.25 20.40 L35.25 30.60" fill="none" stroke="#ffffff" stroke-width="6.50" stroke-linecap="round" stroke-linejoin="round"/>
<path transform="translate(82.00 545.00)" d="M4.95 0.00 L14.85 0.00 L19.80 5.02 L19.80 25.10 L14.85 30.12 L4.95 30.12 L0.00 25.10 L0.00 5.02 L4.95 0.00 M30.15 30.12 L30.15 10.04 L40.05 0.00 L49.95 10.04 L49.95 30.12 M30.15 20.08 L49.95 20.08 M60.30 0.00 L60.30 30.12 M80.10 0.00 L60.30 20.08 M65.25 15.06 L80.10 30.12 M90.45 0.00 L90.45 30.12 L110.25 30.12 M140.40 0.00 L120.60 0.00 L120.60 30.12 L140.40 30.12 M120.60 15.06 L135.45 15.06 M150.75 0.00 L150.75 5.02 L160.65 15.06 L160.65 30.12 M170.55 0.00 L170.55 5.02 L160.65 15.06" fill="none" stroke="#ffffff" stroke-width="6.20" stroke-linecap="round" stroke-linejoin="round"/>
<path transform="translate(292.80 545.00)" d="M19.80 5.02 L14.85 0.00 L4.95 0.00 L0.00 5.02 L0.00 10.04 L4.95 15.06 L14.85 15.06 L19.80 20.08 L19.80 25.10 L14.85 30.12 L4.95 30.12 L0.00 25.10 M35.10 0.00 L45.00 0.00 L49.95 5.02 L49.95 25.10 L45.00 30.12 L35.10 30.12 L30.15 25.10 L30.15 5.02 L35.10 0.00 M60.30 0.00 L60.30 25.10 L65.25 30.12 L75.15 30.12 L80.10 25.10 L80.10 0.00 M90.45 30.12 L90.45 0.00 L110.25 20.08 M110.25 0.00 L110.25 30.12 M120.60 0.00 L135.45 0.00 L140.40 5.02 L140.40 25.10 L135.45 30.12 L120.60 30.12 M123.07 0.00 L123.07 30.12" fill="none" stroke="#ffffff" stroke-width="6.20" stroke-linecap="round" stroke-linejoin="round"/>
<path transform="translate(484.90 545.00)" d="M19.80 5.02 L14.85 0.00 L4.95 0.00 L0.00 5.02 L0.00 10.04 L4.95 15.06 L14.85 15.06 L19.80 20.08 L19.80 25.10 L14.85 30.12 L4.95 30.12 L0.00 25.10 M30.15 30.12 L30.15 0.00 L45.00 0.00 L49.95 5.02 L49.95 10.04 L45.00 15.06 L30.15 15.06 M35.10 15.06 L49.95 30.12 M80.10 0.00 L60.30 0.00 L60.30 30.12 L80.10 30.12 M60.30 15.06 L75.15 15.06 M95.40 0.00 L105.30 0.00 M100.35 0.00 L100.35 30.12 M95.40 30.12 L105.30 30.12 M125.55 0.00 L135.45 0.00 L140.40 5.02 L140.40 25.10 L135.45 30.12 L125.55 30.12 L120.60 25.10 L120.60 5.02 L125.55 0.00" fill="none" stroke="#ffffff" stroke-width="6.20" stroke-linecap="round" stroke-linejoin="round"/>
<path transform="translate(662.30 545.00)" d="M4.95 0.00 L14.85 0.00 M9.90 0.00 L9.90 30.12 M4.95 30.12 L14.85 30.12 M49.95 5.02 L45.00 0.00 L35.10 0.00 L30.15 5.02 L30.15 10.04 L35.10 15.06 L45.00 15.06 L49.95 20.08 L49.95 25.10 L45.00 30.12 L35.10 30.12 L30.15 25.10 M80.10 5.02 L75.15 0.00 L65.25 0.00 L60.30 5.02 L60.30 10.04 L65.25 15.06 L75.15 15.06 L80.10 20.08 L80.10 25.10 L75.15 30.12 L65.25 30.12 L60.30 25.10 M90.45 0.00 L90.45 25.10 L95.40 30.12 L105.30 30.12 L110.25 25.10 L110.25 0.00 M140.40 0.00 L120.60 0.00 L120.60 30.12 L140.40 30.12 M120.60 15.06 L135.45 15.06" fill="none" stroke="#ffffff" stroke-width="6.20" stroke-linecap="round" stroke-linejoin="round"/>
<path transform="translate(843.00 545.00)" d="M0.00 5.02 L4.95 0.00 L14.85 0.00 L19.80 5.02 L19.80 10.04 L14.85 15.06 L4.95 15.06 L0.00 20.08 L0.00 30.12 L19.80 30.12 M35.10 25.10 L40.05 25.10 L40.05 30.12 L35.10 30.12 L35.10 25.10 M65.25 5.02 L70.20 0.00 L70.20 30.12 M65.25 30.12 L75.15 30.12" fill="none" stroke="#ffffff" stroke-width="6.20" stroke-linecap="round" stroke-linejoin="round"/>
<path transform="translate(82.00 595.00)" d="M14.85 0.00 L4.95 10.04 L4.95 20.08 L14.85 30.12 M50.00 5.02 L45.05 0.00 L35.15 0.00 L30.20 5.02 L30.20 25.10 L35.15 30.12 L45.05 30.12 L50.00 25.10 M65.35 0.00 L75.25 10.04 L75.25 20.08 L65.35 30.12 M120.80 0.00 L140.60 0.00 M130.70 0.00 L130.70 30.12 M155.95 0.00 L165.85 0.00 L170.80 5.02 L170.80 25.10 L165.85 30.12 L155.95 30.12 L151.00 25.10 L151.00 5.02 L155.95 0.00 M181.20 30.12 L181.20 0.00 L201.00 20.08 M201.00 0.00 L201.00 30.12 M211.40 0.00 L211.40 5.02 L221.30 15.06 L221.30 30.12 M231.20 0.00 L231.20 5.02 L221.30 15.06 M271.80 30.12 L271.80 10.04 L281.70 0.00 L291.60 10.04 L291.60 30.12 M271.80 20.08 L291.60 20.08 M302.00 0.00 L302.00 30.12 L321.80 30.12 M332.20 0.00 L332.20 30.12 L352.00 30.12 M382.20 5.02 L377.25 0.00 L367.35 0.00 L362.40 5.02 L362.40 25.10 L367.35 30.12 L382.20 30.12 L382.20 17.57 L377.25 17.57 L377.25 20.08 M397.55 0.00 L407.45 0.00 L412.40 5.02 L412.40 25.10 L407.45 30.12 L397.55 30.12 L392.60 25.10 L392.60 5.02 L397.55 0.00 M427.75 0.00 L437.65 0.00 L442.60 5.02 L442.60 25.10 L437.65 30.12 L427.75 30.12 L422.80 25.10 L422.80 5.02 L427.75 0.00 M453.00 0.00 L467.85 0.00 L472.80 5.02 L472.80 25.10 L467.85 30.12 L453.00 30.12 M455.48 0.00 L455.48 30.12 M513.40 5.02 L518.35 0.00 L528.25 0.00 L533.20 5.02 L533.20 10.04 L528.25 15.06 L518.35 15.06 L513.40 20.08 L513.40 30.12 L533.20 30.12 M548.55 0.00 L558.45 0.00 L563.40 5.02 L563.40 25.10 L558.45 30.12 L548.55 30.12 L543.60 25.10 L543.60 5.02 L548.55 0.00 M543.60 25.10 L563.40 5.02 M573.80 5.02 L578.75 0.00 L588.65 0.00 L593.60 5.02 L593.60 10.04 L588.65 15.06 L578.75 15.06 L573.80 20.08 L573.80 30.12 L593.60 30.12 M608.95 0.00 L618.85 0.00 L623.80 5.02 L623.80 25.10 L618.85 30.12 L608.95 30.12 L604.00 25.10 L604.00 5.02 L608.95 0.00 M604.00 25.10 L623.80 5.02" fill="none" stroke="#ffffff" stroke-width="6.20" stroke-linecap="round" stroke-linejoin="round"/>
</svg></body></html>
